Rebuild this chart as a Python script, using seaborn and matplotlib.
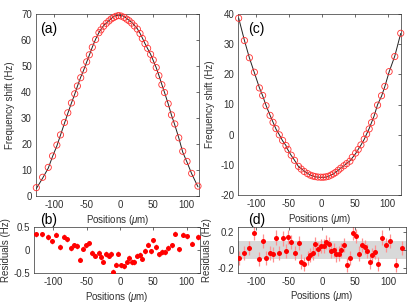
import numpy as np
import pandas as pd
import matplotlib
matplotlib.use("Agg")
import matplotlib.pyplot as plt
import seaborn as sns

# ---------------- data ----------------
pos_ab = [-126.5, -117, -108.5, -102, -95.5, -90, -84, -79, -73.5, -68.5, -64.5, -59.5, -55,
          -50.5, -46.5, -42, -37, -32, -29, -25, -21, -17, -13.5, -10, -6.5, -2.5, 1.5, 6, 10,
          13.5, 17.5, 21.5, 26, 30, 33.5, 37.5, 41.5, 46, 50, 54.5, 58.5, 63, 67, 72.5, 77.5,
          82.5, 88.5, 94.5, 101, 108, 117.5]
freq_a = [3.2, 7.2, 11.0, 15.4, 19.6, 23.5, 28.3, 32.0, 35.8, 39.3, 42.3, 45.5, 48.5, 51.6,
          54.3, 57.2, 60.2, 62.8, 63.9, 65.3, 66.4, 67.3, 68.1, 68.6, 69.1, 69.4, 69.2, 68.7,
          68.0, 67.4, 66.5, 65.4, 64.2, 62.5, 60.6, 58.6, 56.8, 54.5, 52.3, 49.4, 46.3, 42.8,
          39.8, 35.5, 31.2, 27.7, 22.4, 17.2, 13.3, 8.7, 3.8]
resid_b = [0.34, 0.34, 0.28, 0.19, 0.33, 0.065, 0.29, 0.23, 0.04, 0.10, 0.09, -0.21, 0.03,
           0.10, 0.145, -0.065, -0.12, -0.06, -0.15, -0.25, -0.09, -0.12, -0.08, -0.48, -0.32,
           -0.08, -0.33, -0.355, -0.25, -0.17, -0.26, -0.26, -0.12, -0.10, -0.19, -0.02, 0.115,
           -0.03, 0.21, 0.065, -0.095, -0.04, -0.04, 0.045, 0.10, 0.355, 0.015, 0.33, 0.30,
           0.14, 0.28]

pos_cd = [-126, -117.2, -109.7, -102.1, -94.6, -89.6, -84.5, -78.4, -73.9, -69.4, -64.4,
          -59.4, -54.3, -51.3, -46.3, -41.3, -35.3, -31.2, -26.7, -21.7, -17.6, -13.6, -10.1,
          -6.0, -1.5, 2.4, 6.0, 10.0, 14.0, 17.5, 21.1, 25.0, 28.7, 33.6, 37.7, 42.6, 46.2,
          51.3, 55.2, 59.3, 64.3, 67.9, 71.8, 75.4, 79.3, 84.5, 90.5, 95.5, 102.0, 110.6, 119.6]
freq_c = [38.6, 31.2, 25.5, 20.7, 15.5, 13.0, 9.6, 6.4, 4.1, 2.0, -0.05, -1.9, -3.6, -4.9,
          -6.8, -8.5, -10.5, -11.4, -12.2, -12.9, -13.4, -13.7, -13.9, -14.05, -14.1, -14.1,
          -14.0, -13.8, -13.4, -13.0, -12.5, -11.8, -11.1, -10.3, -9.6, -8.8, -7.5, -6.1,
          -4.9, -3.4, -1.5, 0.2, 1.9, 4.0, 6.2, 9.8, 12.9, 16.0, 20.9, 25.9, 33.6]
resid_d = [-0.087, -0.03, 0.026, 0.195, -0.105, 0.10, -0.09, -0.03, -0.05, 0.14, -0.03, 0.13,
           -0.01, 0.15, 0.09, -0.03, 0.08, -0.13, -0.16, -0.087, -0.06, -0.03, 0.07, 0.015,
           0.045, 0.045, 0.09, 0.07, -0.015, 0.004, -0.05, -0.04, -0.003, 0.06, -0.17, -0.087,
           0.195, 0.16, -0.04, 0.06, 0.034, -0.015, -0.13, -0.06, -0.02, -0.155, 0.14, 0.053,
           0.10, -0.166, 0.026]

err_b = 0.058
err_d = 0.08

xticks = [-100, -50, 0, 50, 100]
yticks_a = [0, 10, 20, 30, 40, 50, 60, 70]
yticks_b = [-0.5, 0, 0.5]
yticks_c = [-20, -10, 0, 10, 20, 30, 40]
yticks_d = [-0.2, 0, 0.2]

# ---------------- style ----------------
sns.set_style("white")
plt.rcParams['font.family'] = ['Liberation Sans', 'DejaVu Sans']
plt.rcParams['axes.unicode_minus'] = False
plt.rcParams['mathtext.fontset'] = 'custom'
plt.rcParams['mathtext.it'] = 'Liberation Sans:italic'
plt.rcParams['mathtext.rm'] = 'Liberation Sans'

AXC = '#303030'
fig = plt.figure(figsize=(4.16, 3.06), dpi=100)
W, H = 416.0, 306.0

def mkax(l, r, t, b):
    return fig.add_axes([l / W, 1 - b / H, (r - l) / W, (b - t) / H])

ax_a = mkax(36, 199.3, 14, 196)
ax_b = mkax(34.3, 200, 227, 273)
ax_c = mkax(238.3, 401, 14, 195)
ax_d = mkax(238, 405.5, 227.3, 272.7)

def style(ax):
    for s in ax.spines.values():
        s.set_color(AXC)
        s.set_linewidth(0.5)
        s.set_visible(True)
    ax.tick_params(direction='in', top=True, right=True, length=2, width=0.5,
                   colors=AXC, labelsize=7, pad=3)
    ax.set_facecolor('white')

def fit_panel(ax, pos, freq, resid, yt, ylim, xlim, label, lx, ylab_x):
    df = pd.DataFrame({'x': pos, 'y': freq, 'fit': np.array(freq) - np.array(resid)})
    sns.lineplot(data=df, x='x', y='fit', ax=ax, color='#222222', lw=0.7,
                 estimator=None, zorder=2)
    sns.scatterplot(data=df, x='x', y='y', ax=ax, marker='o', s=20,
                    facecolors='none', edgecolor='#ff3030', linewidth=0.6, zorder=3,
                    clip_on=False)
    ax.set_xlim(*xlim)
    ax.set_ylim(*ylim)
    ax.set_xticks(xticks)
    ax.set_yticks(yt)
    style(ax)
    ax.set_xlabel('Positions ($\\mu$m)', fontsize=7, color=AXC)
    ax.set_ylabel('Frequency shift (Hz)', fontsize=7, color=AXC)
    ax.xaxis.set_label_coords(0.5, -0.095)
    ax.yaxis.set_label_coords(ylab_x, 0.5)
    ax.text(lx, 0.955, label, transform=ax.transAxes, fontsize=10, va='top', ha='left',
            color='black')

def resid_panel(ax, pos, resid, err, yt, ylim, xlim, label, lx, ylab_x, band=False):
    if band:
        ax.axhspan(-0.1, 0.1, color='#d9d9d9', zorder=0, lw=0)
    ax.errorbar(pos, resid, yerr=err, fmt='none', ecolor='#ff9090', elinewidth=0.9,
                capsize=0, zorder=2)
    df = pd.DataFrame({'x': pos, 'y': resid})
    sns.scatterplot(data=df, x='x', y='y', ax=ax, marker='o', s=13, color='#ff0000',
                    linewidth=0, zorder=3)
    ax.set_xlim(*xlim)
    ax.set_ylim(*ylim)
    ax.set_xticks(xticks)
    ax.set_yticks(yt)
    ax.set_yticklabels([('%g' % v) for v in yt])
    style(ax)
    ax.set_xlabel('Positions ($\\mu$m)', fontsize=7, color=AXC)
    ax.set_ylabel('Residuals (Hz)', fontsize=7, color=AXC)
    ax.xaxis.set_label_coords(0.5, -0.37)
    ax.yaxis.set_label_coords(ylab_x, 0.5)
    ax.text(lx, 1.0, label, transform=ax.transAxes, fontsize=10, va='bottom', ha='left',
            color='black')

fit_panel(ax_a, pos_ab, freq_a, resid_b, yticks_a, (0, 70), (-127, 119.5), '(a)', 0.025, -0.13)
resid_panel(ax_b, pos_ab, resid_b, err_b, yticks_b, (-0.5, 0.5), (-128.5, 120), '(b)', 0.035, -0.14)
fit_panel(ax_c, pos_cd, freq_c, resid_d, yticks_c, (-20, 40), (-126.5, 120), '(c)', 0.058, -0.146)
resid_panel(ax_d, pos_cd, resid_d, err_d, yticks_d, (-0.255, 0.255), (-126.8, 125.6), '(d)', 0.058, -0.153, band=True)

fig.savefig('out.png', dpi=100)
